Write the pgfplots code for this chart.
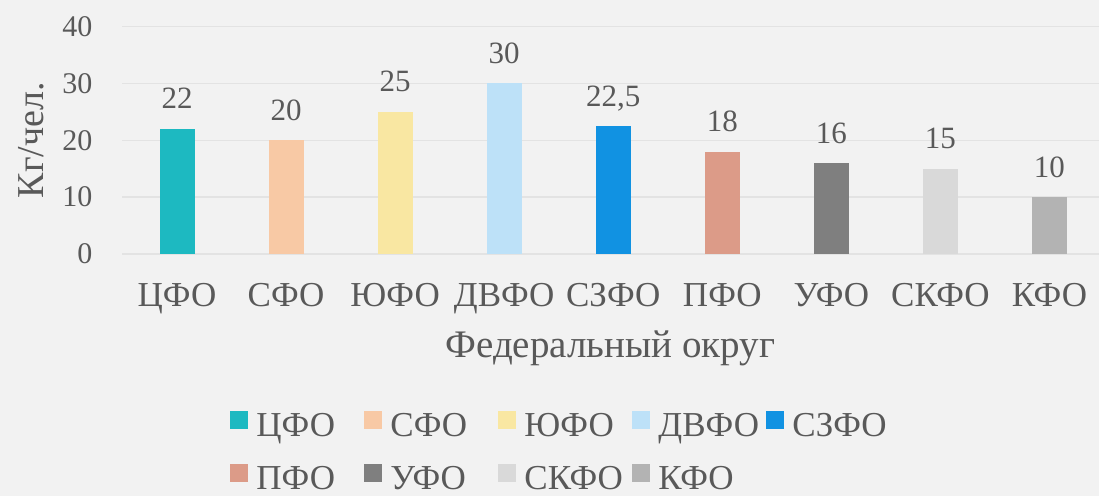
\documentclass[border=0pt]{standalone}
\usepackage{fontspec}
\setmainfont{Liberation Serif}
\usepackage{pgfplots}
\pgfplotsset{compat=1.18}

\definecolor{bg}{HTML}{F2F2F2}
\definecolor{gridc}{HTML}{E3E3E3}
\definecolor{txt}{HTML}{595959}
\definecolor{c1}{HTML}{1DB9C1}
\definecolor{c2}{HTML}{F8C9A5}
\definecolor{c3}{HTML}{F9E7A2}
\definecolor{c4}{HTML}{BDE1F8}
\definecolor{c5}{HTML}{1192E2}
\definecolor{c6}{HTML}{DC9B88}
\definecolor{c7}{HTML}{7F7F7F}
\definecolor{c8}{HTML}{D9D9D9}
\definecolor{c9}{HTML}{B3B3B3}

\begin{document}
\begin{tikzpicture}
\useasboundingbox (-122.5pt,-242pt) rectangle (976.5pt,254pt);
\fill[bg] (-122.5pt,-242pt) rectangle (976.5pt,254pt);
\begin{axis}[
    scale only axis,
    width=981.5pt, height=227.5pt,
    xmin=-0.5, xmax=8.5,
    ymin=0, ymax=40,
    ytick={0,10,20,30,40},
    xtick={0,1,2,3,4,5,6,7,8},
    xticklabels={ЦФО,СФО,ЮФО,ДВФО,СЗФО,ПФО,УФО,СКФО,КФО},
    axis line style={draw=none},
    major tick length=0pt,
    ymajorgrids,
    grid style={gridc, line width=1.3pt},
    /pgf/number format/assume math mode=true,
    /pgf/number format/use comma,
    yticklabel style={font=\fontsize{30}{34}\selectfont, text=txt, anchor=east, inner sep=0pt, xshift=-30pt},
    xticklabel style={font=\fontsize{35}{40}\selectfont, text=txt, anchor=base, inner sep=0pt, yshift=-52pt},
    xlabel={Федеральный округ},
    ylabel={Кг/чел.},
    xlabel style={font=\fontsize{39}{44}\selectfont, text=txt, at={(axis description cs:0.497,0)}, anchor=base, inner sep=0pt, yshift=-103pt},
    ylabel style={font=\fontsize{38}{44}\selectfont, text=txt, at={(axis description cs:-0.081,0.5)}, anchor=base, inner sep=0pt},
    ybar, bar width=35pt, bar shift=0pt,
    nodes near coords,
    every node near coord/.append style={font=\fontsize{31}{36}\selectfont, text=txt, anchor=base, inner sep=0pt, yshift=20pt},
    legend columns=5,
    legend cell align=left,
    legend image code/.code={\fill[#1] (0pt,0pt) rectangle (18pt,18pt);},
    legend style={
        at={(axis description cs:0.1100,-0.6900)}, anchor=north west,
        draw=none, fill=none, inner sep=0pt, outer sep=0pt,
        font=\fontsize{35}{40}\selectfont, text=txt,
        row sep=20pt,
        nodes={inner sep=0pt, text height=23pt, text depth=8pt},
        /tikz/every odd column/.append style={column sep=8pt},
        /tikz/every even column/.append style={column sep=0pt, text width=108pt},
    },
]
\addplot[fill=c1, draw=none] coordinates {(0,22)};
\addplot[fill=c2, draw=none] coordinates {(1,20)};
\addplot[fill=c3, draw=none] coordinates {(2,25)};
\addplot[fill=c4, draw=none] coordinates {(3,30)};
\addplot[fill=c5, draw=none] coordinates {(4,22.5)};
\addplot[fill=c6, draw=none] coordinates {(5,18)};
\addplot[fill=c7, draw=none] coordinates {(6,16)};
\addplot[fill=c8, draw=none] coordinates {(7,15)};
\addplot[fill=c9, draw=none] coordinates {(8,10)};
\legend{ЦФО,СФО,ЮФО,ДВФО,СЗФО,ПФО,УФО,СКФО,КФО}
\end{axis}
\end{tikzpicture}
\end{document}
